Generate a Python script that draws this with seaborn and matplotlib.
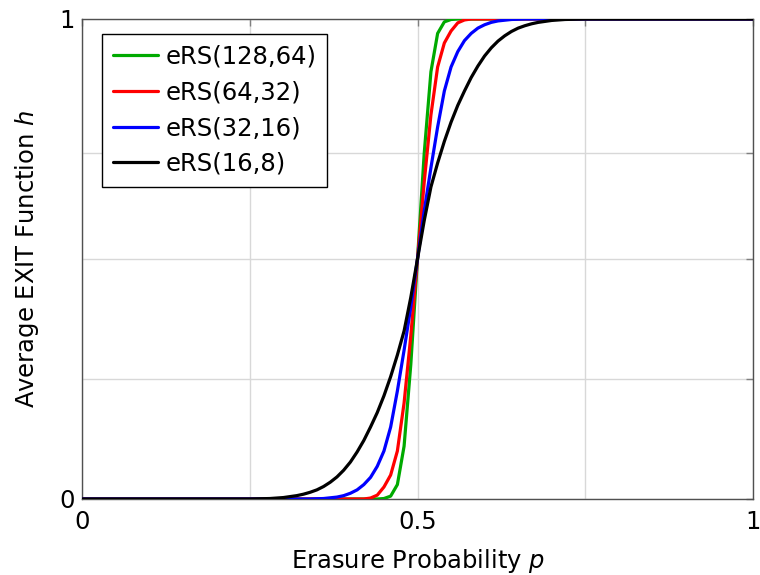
import matplotlib
matplotlib.use("Agg")
import matplotlib.pyplot as plt
import seaborn as sns
import pandas as pd

# ---- data ----
labels = ["eRS(128,64)", "eRS(64,32)", "eRS(32,16)", "eRS(16,8)"]
colors = ["#00aa00", "#ff0000", "#0000ff", "#000000"]

p_128 = [0.0, 0.44, 0.45, 0.46, 0.47, 0.48, 0.49, 0.50, 0.51, 0.52, 0.53, 0.54, 0.55, 0.56, 1.0]
h_128 = [0.0, 0.0, 0.001, 0.006, 0.03, 0.11, 0.28, 0.50, 0.72, 0.89, 0.97, 0.994, 0.999, 1.0, 1.0]

p_64 = [0.0, 0.42, 0.43, 0.44, 0.45, 0.46, 0.47, 0.48, 0.49, 0.50, 0.51, 0.52, 0.53, 0.54, 0.55, 0.56, 0.57, 0.58, 1.0]
h_64 = [0.0, 0.0, 0.002, 0.008, 0.025, 0.05, 0.10, 0.20, 0.34, 0.50, 0.66, 0.80, 0.90, 0.95, 0.975, 0.992, 0.998, 1.0, 1.0]

p_32 = [0.0, 0.34, 0.36, 0.38, 0.39, 0.40, 0.41, 0.42, 0.43, 0.44, 0.45, 0.46, 0.47, 0.48, 0.49, 0.50,
        0.51, 0.52, 0.53, 0.54, 0.55, 0.56, 0.57, 0.58, 0.59, 0.60, 0.61, 0.62, 0.64, 0.66, 1.0]
h_32 = [0.0, 0.0, 0.001, 0.004, 0.007, 0.012, 0.019, 0.03, 0.045, 0.068, 0.10, 0.15, 0.225, 0.31, 0.40, 0.50,
        0.60, 0.69, 0.775, 0.85, 0.90, 0.932, 0.955, 0.97, 0.981, 0.988, 0.993, 0.996, 0.999, 1.0, 1.0]

p_16 = [0.0, 0.25, 0.28, 0.30, 0.32, 0.33, 0.34, 0.35, 0.36, 0.37, 0.38, 0.39, 0.40, 0.41, 0.42, 0.43, 0.44,
        0.45, 0.46, 0.47, 0.48, 0.49, 0.50,
        0.51, 0.52, 0.53, 0.54, 0.55, 0.56, 0.57, 0.58, 0.59, 0.60, 0.61, 0.62, 0.63, 0.64, 0.65, 0.66,
        0.67, 0.68, 0.70, 0.72, 0.75, 1.0]
h_16 = [0.0, 0.0, 0.001, 0.003, 0.007, 0.010, 0.014, 0.019, 0.026, 0.035, 0.046, 0.06, 0.077, 0.098, 0.122, 0.15, 0.18,
        0.215, 0.255, 0.30, 0.35, 0.42, 0.50,
        0.58, 0.65, 0.70, 0.745, 0.785, 0.82, 0.85, 0.878, 0.902, 0.923, 0.94, 0.954, 0.965, 0.974, 0.981, 0.986,
        0.99, 0.993, 0.997, 0.999, 1.0, 1.0]

x_ticks = [0, 0.25, 0.5, 0.75, 1]
x_ticklabels = ["0", "", "0.5", "", "1"]
y_ticks = [0, 0.25, 0.5, 0.72, 1]
y_ticklabels = ["0", "", "", "", "1"]

frames = []
for lab, p, h in zip(labels, [p_128, p_64, p_32, p_16], [h_128, h_64, h_32, h_16]):
    frames.append(pd.DataFrame({"p": p, "h": h, "code": lab}))
df = pd.concat(frames, ignore_index=True)

sns.set_theme(style="white")
plt.rcParams["font.family"] = ["DejaVu Sans"]
plt.rcParams["mathtext.fontset"] = "dejavusans"
plt.rcParams["text.color"] = "black"
plt.rcParams["axes.labelcolor"] = "black"

FS = 17.5
fig = plt.figure(figsize=(7.6, 5.75), dpi=100)
ax = fig.add_axes([82 / 760, 1 - 499 / 575, 671 / 760, 480 / 575])

sns.lineplot(data=df, x="p", y="h", hue="code", hue_order=labels,
             palette=dict(zip(labels, colors)), linewidth=2.3, ax=ax,
             sort=False, estimator=None, zorder=3)

ax.set_xlim(0, 1)
ax.set_ylim(0, 1)
ax.set_xticks(x_ticks)
ax.set_xticklabels(x_ticklabels)
ax.set_yticks(y_ticks)
ax.set_yticklabels(y_ticklabels)
ax.grid(True, color="#d8d8d8", linewidth=1.0, zorder=0)
ax.set_axisbelow(True)
ax.tick_params(axis="both", which="both", direction="in", length=5, width=1,
               color="#808080", labelsize=FS, top=True, right=True,
               labelcolor="black")
ax.tick_params(axis="x", pad=8)
ax.tick_params(axis="y", pad=5)
for s in ax.spines.values():
    s.set_color("#505050")
    s.set_linewidth(1.0)
    s.set_visible(True)

ax.set_xlabel("Erasure Probability $\\mathit{p}$", fontsize=FS, labelpad=9, color="black")
ax.set_ylabel("Average EXIT Function $\\mathit{h}$", fontsize=FS, labelpad=13, color="black")

leg = ax.legend(loc="upper left", bbox_to_anchor=(20 / 671, 1 - 15 / 480),
                fontsize=FS, frameon=True, fancybox=False, edgecolor="black",
                handlelength=1.85, handletextpad=0.3, labelspacing=0.48,
                borderpad=0.45, borderaxespad=0)
leg.get_frame().set_linewidth(1.0)
leg.get_frame().set_alpha(1)
for line in leg.get_lines():
    line.set_linewidth(2.3)
for t in leg.get_texts():
    t.set_color("black")

fig.savefig("out.png", dpi=100)
